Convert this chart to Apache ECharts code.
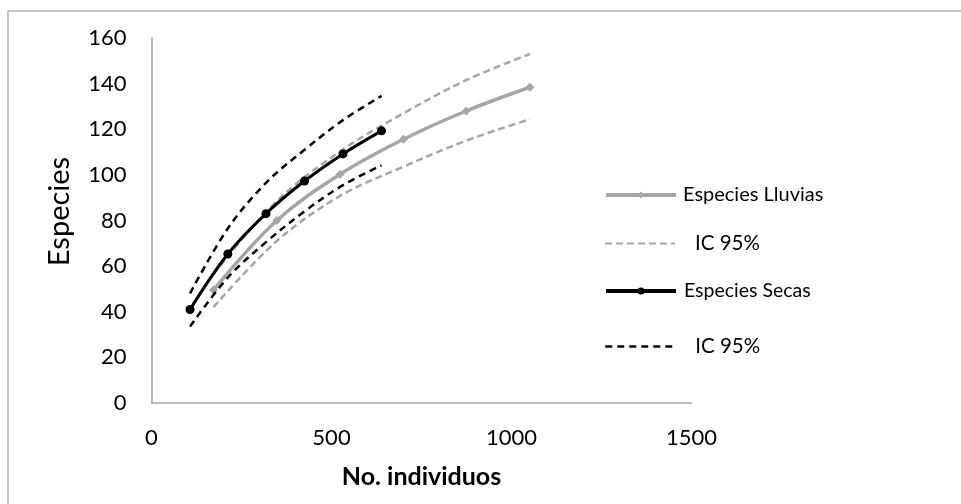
<!DOCTYPE html>
<html>
<head>
<meta charset="utf-8">
<script src="https://cdn.jsdelivr.net/npm/echarts@6/dist/echarts.min.js"></script>
<style>
html,body{margin:0;padding:0;background:#fff;}
#chart{width:961px;height:504px;}
</style>
</head>
<body>
<div id="chart"></div>
<script>
// ---- data ----
const lluviasX = [172, 348, 524, 700, 874, 1051];
const lluviasY = [49.5, 80, 100.3, 115.6, 128, 138.4];
const lluviasUp = [56.5, 88.5, 110.3, 127, 141.5, 153];
const lluviasLo = [42, 71, 90.8, 103.6, 115, 124.4];

const secasX = [107, 212, 318, 425, 532, 639];
const secasY = [41, 65.3, 83, 97.3, 109.2, 119.3];
const secasUp = [48, 76.5, 96.5, 111, 124, 134.6];
const secasLo = [33.5, 55, 70.5, 84, 95.5, 104.2];

const xTicks = [0, 500, 1000, 1500];
const yTicks = [0, 20, 40, 60, 80, 100, 120, 140, 160];

const seriesNames = ['Especies Lluvias', 'IC 95% Lluvias', 'Especies Secas', 'IC 95% Secas'];

function pairs(xs, ys) { return xs.map((x, i) => [x, ys[i]]); }

const GREY = '#a6a6a6';
const FONT = 'Lato';

const chart = echarts.init(document.getElementById('chart'));

function legendFor(name, top, padLeft, fontSize, extra) {
  return Object.assign({
    data: [name],
    left: 604,
    top: top,
    orient: 'vertical',
    padding: 0,
    itemWidth: 70,
    itemHeight: 9,
    selectedMode: false,
    formatter: n => n.indexOf('IC 95%') === 0 ? 'IC 95%' : n,
    textStyle: { fontFamily: FONT, fontSize: fontSize, color: '#000', padding: [0, 0, 0, padLeft] }
  }, extra || {});
}

chart.setOption({
  animation: false,
  backgroundColor: '#fff',
  graphic: [{
    type: 'rect',
    shape: { x: 8, y: 11, width: 1000, height: 600 },
    style: { fill: 'none', stroke: '#b3b3b3', lineWidth: 1.5 },
    silent: true, z: -1
  }],
  grid: { left: 151.5, right: 269.5, top: 38, bottom: 101 },
  legend: [
    legendFor(seriesNames[0], 185, 2, 20, { lineStyle: { width: 4 } }),
    legendFor(seriesNames[1], 233, 15, 20.5, { itemStyle: { opacity: 0 }, lineStyle: { width: 2 } }),
    legendFor(seriesNames[2], 281, 3, 19.5, { lineStyle: { width: 4 } }),
    legendFor(seriesNames[3], 336, 15, 20.5, { itemStyle: { opacity: 0 }, lineStyle: { width: 2.5 } })
  ],
  xAxis: {
    type: 'value', min: xTicks[0], max: xTicks[xTicks.length - 1], interval: 500,
    name: 'No. individuos', nameLocation: 'middle', nameGap: 61,
    nameTextStyle: { fontFamily: FONT, fontSize: 25, fontWeight: 'bold', color: '#000' },
    axisLine: { lineStyle: { color: GREY, width: 1.5 } },
    axisTick: { show: false },
    splitLine: { show: false },
    axisLabel: { fontFamily: FONT, fontSize: 22, color: '#000', margin: 24, formatter: v => String(v) }
  },
  yAxis: {
    type: 'value', min: yTicks[0], max: yTicks[yTicks.length - 1], interval: 20,
    name: 'Especies', nameLocation: 'middle', nameGap: 77,
    nameTextStyle: { fontFamily: FONT, fontSize: 29, color: '#000', padding: [0, 0, 0, 18] },
    axisLine: { show: true, lineStyle: { color: GREY, width: 1.5 } },
    axisTick: { show: false },
    splitLine: { show: false },
    axisLabel: { fontFamily: FONT, fontSize: 22, color: '#000', margin: 25, formatter: v => String(v) }
  },
  series: [
    { name: seriesNames[1], type: 'line', data: pairs(lluviasX, lluviasUp), smooth: 0.35, showSymbol: false, symbol: 'none',
      lineStyle: { color: GREY, width: 2.5, type: [7, 4] }, itemStyle: { color: GREY }, z: 2 },
    { name: seriesNames[1], type: 'line', data: pairs(lluviasX, lluviasLo), smooth: 0.35, showSymbol: false, symbol: 'none',
      lineStyle: { color: GREY, width: 2.5, type: [7, 4] }, itemStyle: { color: GREY }, z: 2 },
    { name: seriesNames[0], type: 'line', data: pairs(lluviasX, lluviasY), smooth: 0.35, symbol: 'diamond', symbolSize: 9,
      lineStyle: { color: GREY, width: 3.5 }, itemStyle: { color: GREY }, z: 3 },
    { name: seriesNames[3], type: 'line', data: pairs(secasX, secasUp), smooth: 0.35, showSymbol: false, symbol: 'none',
      lineStyle: { color: '#000', width: 2.5, type: [7, 5] }, itemStyle: { color: '#000' }, z: 4 },
    { name: seriesNames[3], type: 'line', data: pairs(secasX, secasLo), smooth: 0.35, showSymbol: false, symbol: 'none',
      lineStyle: { color: '#000', width: 2.5, type: [7, 5] }, itemStyle: { color: '#000' }, z: 4 },
    { name: seriesNames[2], type: 'line', data: pairs(secasX, secasY), smooth: 0.35, symbol: 'circle', symbolSize: 9,
      lineStyle: { color: '#000', width: 3 }, itemStyle: { color: '#000' }, z: 5 }
  ]
});
</script>
</body>
</html>
